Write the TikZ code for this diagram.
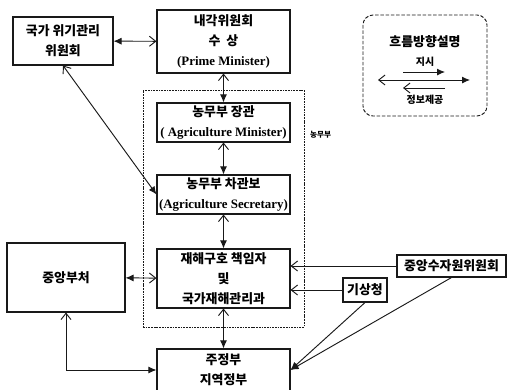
\documentclass[tikz,border=0pt]{standalone}
\usepackage{fontspec}
\setmainfont{Noto Sans CJK KR}
\newfontfamily\enfont{Liberation Serif}
\usetikzlibrary{arrows.meta}
\definecolor{orgink}{RGB}{25,25,25}
\newcommand{\kt}{\bfseries\fontsize{11}{17}\selectfont}
\newcommand{\en}[1]{{\enfont\bfseries #1}}

\begin{document}
\begin{tikzpicture}[x=0.03cm,y=-0.03cm,
  box/.style={rectangle,draw=orgink,line width=0.9pt,fill=white,align=center,inner sep=1pt,font=\kt},
  grp/.style={rectangle,draw=orgink,line width=0.5pt,dash pattern=on 1.5pt off 0.8pt,inner sep=0pt},
  both/.style={{Straight Barb[length=1.9mm,width=3mm]}-{Latex[length=2.4mm,width=2.1mm]},line width=0.8pt,orgink},
  ord/.style={-{Latex[length=2.4mm,width=2.1mm]},line width=0.8pt,orgink},
  rep/.style={-{Straight Barb[length=1.9mm,width=3mm]},line width=0.8pt,orgink}]
\useasboundingbox (0,0) rectangle (507,389);
\node[grp,minimum width=4.83cm,minimum height=7.11cm] (agr) at (223.5,208.5) {};
\node[font=\bfseries\fontsize{6.5}{8}\selectfont,anchor=west] (agrl) at (306,135) {농무부};
\node[box,minimum width=3cm,minimum height=1.44cm] (g) at (63,41) {국가 위기관리\\위원회};
\node[box,minimum width=3.99cm,minimum height=1.89cm] (pm) at (223.5,41.5) {내각위원회\\수~~상\\\en{(Prime Minister)}};
\node[box,minimum width=3.99cm,minimum height=1.17cm] (min) at (223.5,122.5) {농무부 장관\\\en{( Agriculture Minister)}};
\node[box,minimum width=3.99cm,minimum height=1.17cm] (sec) at (223.5,194.5) {농무부 차관보\\\en{(Agriculture Secretary)}};
\node[box,minimum width=3.99cm,minimum height=1.77cm] (dis) at (223.5,278.5) {재해구호 책임자\\및\\국가재해관리과};
\node[box,minimum width=3.99cm,minimum height=1.26cm] (loc) at (223.5,370) {주정부\\지역정부};
\node[box,minimum width=3.54cm,minimum height=2.07cm] (cen) at (66,277.5) {중앙부처};
\node[box,minimum width=3.27cm,minimum height=0.66cm] (wat) at (451.5,266) {중앙수자원위원회};
\node[box,minimum width=1.32cm,minimum height=0.72cm] (met) at (365,290) {기상청};
\foreach \u/\v in {pm/g,pm/min,min/sec,sec/dis,dis/loc,dis/cen} \draw[both] (\u) -- (\v);
\draw[both] (g.south) -- (sec.west);
\draw[both] (cen.south) |- (loc.west);
\draw[rep] (wat.west) -- (wat.west -| dis.east);
\draw[rep] (met.west) -- (met.west -| dis.east);
\foreach \u in {met,wat} \draw[ord] (\u.south) -- (loc.east);
\draw[orgink,line width=0.8pt,dash pattern=on 3pt off 1.5pt,rounded corners=0.3cm] (363,15) rectangle (487,116);
\node[font=\kt] (lt) at (425,42) {흐름방향설명};
\node[font=\bfseries\fontsize{8.5}{10}\selectfont] (lo) at (425,62) {지시};
\node[font=\bfseries\fontsize{8.5}{10}\selectfont] (li) at (425,100) {정보제공};
\coordinate (a1) at (403,72); \coordinate (b1) at (445,72);
\coordinate (a2) at (378,80); \coordinate (b2) at (470,80);
\coordinate (a3) at (403,88); \coordinate (b3) at (445,88);
\draw[ord] (a1) -- (b1);
\draw[both] (a2) -- (b2);
\draw[rep] (b3) -- (a3);
\end{tikzpicture}
\end{document}
